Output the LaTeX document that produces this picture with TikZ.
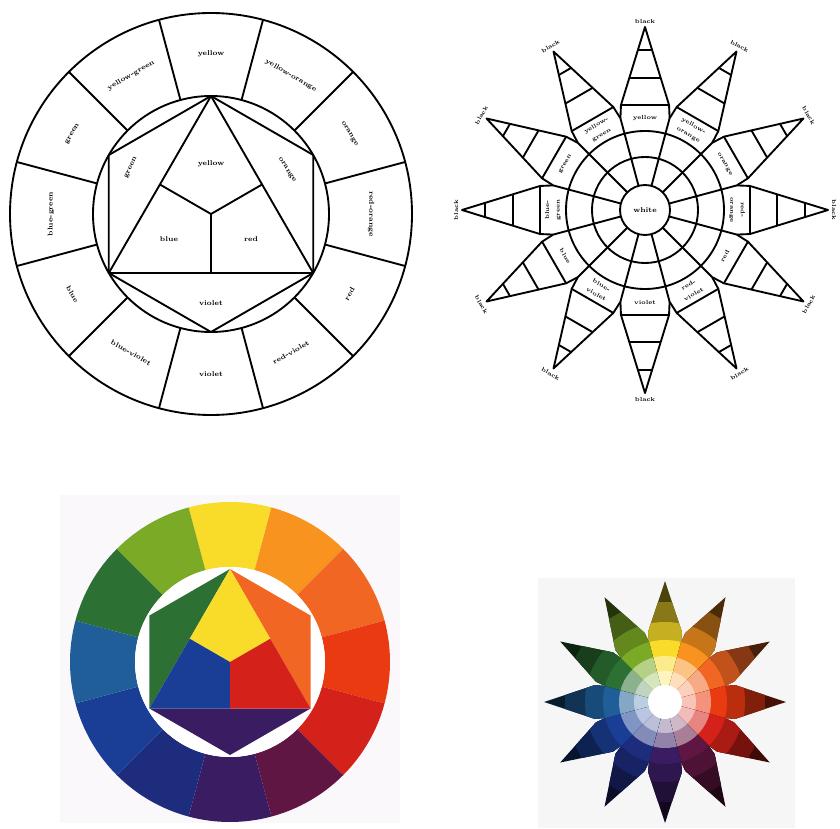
\documentclass[tikz,border=0pt]{standalone}
\usepackage{tikz}
\usetikzlibrary{calc}
\definecolor{cyellow}{RGB}{249,219,42}
\definecolor{cyelloworange}{RGB}{247,147,30}
\definecolor{corange}{RGB}{241,102,34}
\definecolor{credorange}{RGB}{233,58,18}
\definecolor{cred}{RGB}{212,33,25}
\definecolor{credviolet}{RGB}{96,22,66}
\definecolor{cviolet}{RGB}{58,28,99}
\definecolor{cblueviolet}{RGB}{30,44,126}
\definecolor{cblue}{RGB}{26,62,149}
\definecolor{cbluegreen}{RGB}{31,94,152}
\definecolor{cgreen}{RGB}{44,113,51}
\definecolor{cyellowgreen}{RGB}{123,170,38}
\definecolor{paperA}{RGB}{251,248,251}
\definecolor{paperB}{RGB}{246,246,246}

\begin{document}
\begin{tikzpicture}[x=0.03cm,y=0.03cm,line join=round]
\tikzstyle{outline}=[line width=1.6pt]
\tikzstyle{lbl}=[font=\fontsize{6}{6.5}\selectfont\bfseries,inner sep=0pt,align=center]
\tikzstyle{small}=[font=\fontsize{5}{9}\selectfont\bfseries,inner sep=0pt,align=center]
\useasboundingbox (0,0) rectangle (840,828);

% line drawing of the colour circle
\begin{scope}[shift={(211,614)}]
\draw[outline] (0,0) circle (201) (0,0) circle (118);
\foreach \a in {15,45,...,345}{\draw[outline] (\a:118) -- (\a:201);}
\foreach \n/\a in {hA/90,hB/150,hC/210,hD/270,hE/330,hF/30}{\coordinate (\n) at (\a:118);}
\coordinate (mid) at (0,0);
\draw[outline] (hA)--(hB)--(hC)--(hD)--(hE)--(hF)--cycle;
\draw[outline] (hA)--(hC)--(hE)--cycle;
\draw[outline] ($(hA)!0.5!(hC)$) -- (mid) -- ($(hA)!0.5!(hE)$) (mid) -- ($(hC)!0.5!(hE)$);
\foreach \i/\a/\t/\r in {1/90/yellow/0,2/60/yellow-orange/-30,3/30/orange/-60,4/0/red-orange/-90,
  5/-30/red/60,6/-60/red-violet/30,7/-90/violet/0,8/-120/blue-violet/-30,9/-150/blue/-60,
  10/180/blue-green/90,11/150/green/60,12/120/yellow-green/30}
  {\node[lbl,rotate=\r] (ring\i) at (\a:160) {\t};}
\node[lbl] (inY) at (0,50) {yellow};
\node[lbl] (inB) at (-42,-25) {blue};
\node[lbl] (inR) at (40,-25) {red};
\node[lbl] (inV) at (0,-89) {violet};
\node[lbl,rotate=65] (inG) at (-80,46) {green};
\node[lbl,rotate=-58] (inO) at (76,44) {orange};
\end{scope}

% line drawing of the colour star
\begin{scope}[shift={(645,618)}]
\foreach \a in {0,30,...,330}{
  \coordinate (tip) at (\a:183);
  \coordinate (ol) at (\a+12.9:107.7);
  \coordinate (or) at (\a-12.9:107.7);
  \coordinate (bl) at (\a+15:95);
  \coordinate (br) at (\a-15:95);
  \draw[outline] (br)--(or)--(tip)--(ol)--(bl);
  \draw[outline] (or)--(ol);
  \draw[outline] ($(tip)!0.654!(or)$)--($(tip)!0.654!(ol)$);
  \draw[outline] ($(tip)!0.295!(or)$)--($(tip)!0.295!(ol)$);
  \draw[outline] (\a+15:25)--(\a+15:95);
}
\draw[outline] (0,0) circle (25) (0,0) circle (53) (0,0) circle (79);
\node[lbl] (white) at (0,0) {white};
\foreach \i/\a/\t/\r in {1/90/yellow/0,2/60/yellow-\\orange/-30,3/30/orange/-60,4/0/red-\\orange/-90,
  5/-30/red/60,6/-60/red-\\violet/30,7/-90/violet/0,8/-120/blue-\\violet/-30,9/-150/blue/-60,
  10/180/blue-\\green/90,11/150/green/60,12/120/yellow-\\green/30}
  {\node[small,rotate=\r] (hue\i) at (\a:92) {\t};
   \node[small,rotate=\r] (black\i) at (\a:189) {black};}
\end{scope}

% painted colour circle
\fill[paperA] (60,5) rectangle (400,333);
\begin{scope}[shift={(230,166)}]
\foreach \a/\c in {90/cyellow,60/cyelloworange,30/corange,0/credorange,-30/cred,-60/credviolet,
  -90/cviolet,-120/cblueviolet,-150/cblue,-180/cbluegreen,-210/cgreen,-240/cyellowgreen}
  {\fill[\c] (\a-15:160) arc (\a-15:\a+15:160) -- (\a+15:95) arc (\a+15:\a-15:95) -- cycle;}
\fill[white] (0,0) circle (95);
\foreach \n/\a in {pA/90,pB/150,pC/210,pD/270,pE/330,pF/30}{\coordinate (\n) at (\a:93);}
\coordinate (pO) at (0,0);
\fill[cgreen] (pA)--(pB)--(pC)--cycle;
\fill[corange] (pA)--(pF)--(pE)--cycle;
\fill[cviolet] (pC)--(pD)--(pE)--cycle;
\fill[cyellow] (pA)--($(pA)!0.5!(pC)$)--(pO)--($(pA)!0.5!(pE)$)--cycle;
\fill[cblue] ($(pA)!0.5!(pC)$)--(pC)--($(pC)!0.5!(pE)$)--(pO)--cycle;
\fill[cred] ($(pA)!0.5!(pE)$)--(pO)--($(pC)!0.5!(pE)$)--(pE)--cycle;
\end{scope}

% painted colour star
\fill[paperB] (538,0) rectangle (795,250);
\begin{scope}[shift={(665,126)}]
\foreach \a/\c in {90/cyellow,60/cyelloworange,30/corange,0/credorange,-30/cred,-60/credviolet,
  -90/cviolet,-120/cblueviolet,-150/cblue,-180/cbluegreen,-210/cgreen,-240/cyellowgreen}{
  \begin{scope}
    \clip (0,0) -- (\a-15:62) -- (\a-13.6:72) -- (\a:121) -- (\a+13.6:72) -- (\a+15:62) -- cycle;
    \fill[\c!30!black] (0,0) circle (121);
    \fill[\c!55!black] (0,0) circle (100);
    \fill[\c!80!black] (0,0) circle (80);
    \fill[\c] (0,0) circle (62);
    \fill[\c!55!white] (0,0) circle (46);
    \fill[\c!30!white] (0,0) circle (31);
  \end{scope}}
\fill[white] (0,0) circle (17);
\end{scope}
\end{tikzpicture}
\end{document}
